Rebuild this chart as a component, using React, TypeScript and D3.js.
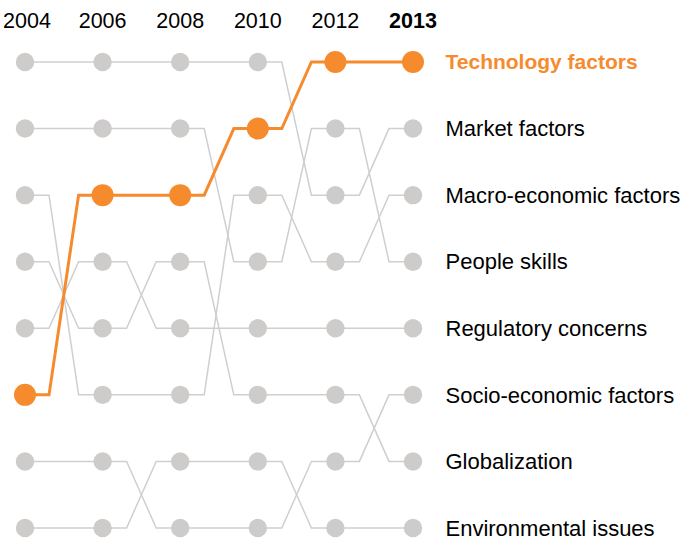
import React from "react";
import * as d3 from "d3";

const years = ["2004", "2006", "2008", "2010", "2012", "2013"];
const factors = [
  "Technology factors",
  "Market factors",
  "Macro-economic factors",
  "People skills",
  "Regulatory concerns",
  "Socio-economic factors",
  "Globalization",
  "Environmental issues",
];
const technologyRanks = [6, 3, 3, 2, 1, 1];
const marketRanks = [1, 1, 1, 1, 3, 2];
const macroRanks = [3, 6, 6, 3, 4, 3];
const peopleRanks = [2, 2, 2, 4, 2, 4];
const regulatoryRanks = [5, 4, 5, 5, 5, 5];
const socioRanks = [7, 7, 8, 8, 7, 6];
const globalizationRanks = [4, 5, 4, 6, 6, 7];
const environmentalRanks = [8, 8, 7, 7, 8, 8];
const rankSeries = [
  technologyRanks,
  marketRanks,
  macroRanks,
  peopleRanks,
  regulatoryRanks,
  socioRanks,
  globalizationRanks,
  environmentalRanks,
];
const highlight = "Technology factors";

const W = 683;
const H = 540;
const GRAY = "#cdcccb";
const LINE_GRAY = "#cfcfcf";
const ORANGE = "#f68b2e";
const FONT = "'Liberation Sans', Arial, Helvetica, sans-serif";

export default function App() {
  const x = d3.scalePoint<string>().domain(years).range([25, 413]);
  const y = d3.scaleLinear().domain([1, 8]).range([62, 528]);
  const off = 24;
  const line = d3.line<[number, number]>().x((d) => d[0]).y((d) => d[1]);

  const pathFor = (ranks: number[]) => {
    const pts: [number, number][] = [];
    ranks.forEach((r, i) => {
      const xi = x(years[i])!;
      if (i > 0) pts.push([xi - off, y(r)]);
      pts.push([xi, y(r)]);
      if (i < ranks.length - 1) pts.push([xi + off, y(r)]);
    });
    return line(pts)!;
  };

  const order = factors.map((f, i) => i).sort((a, b) =>
    factors[a] === highlight ? 1 : factors[b] === highlight ? -1 : 0
  );

  const lastYear = years[years.length - 1];

  return (
    <div style={{ position: "fixed", left: 0, top: 0 }}>
      <svg width={W} height={H} style={{ display: "block", background: "#fff" }}>
        {years.map((yr, i) => (
          <text
            key={yr}
            x={x(yr)! + (i === 0 ? 2 : 0)}
            y={28}
            textAnchor="middle"
            fontFamily={FONT}
            fontSize={21.5}
            fontWeight={i === years.length - 1 ? "bold" : "normal"}
            fill="#000"
          >
            {yr}
          </text>
        ))}
        {order.map((fi) => {
          const hl = factors[fi] === highlight;
          const ranks = rankSeries[fi];
          return (
            <g key={factors[fi]}>
              <path
                d={pathFor(ranks)}
                fill="none"
                stroke={hl ? ORANGE : LINE_GRAY}
                strokeWidth={hl ? 3 : 1.5}
                strokeLinejoin="miter"
              />
              {ranks.map((r, i) => (
                <circle
                  key={i}
                  cx={x(years[i])}
                  cy={y(r)}
                  r={hl ? 11 : 9.2}
                  fill={hl ? ORANGE : GRAY}
                />
              ))}
              <text
                x={x(lastYear)! + 32.5}
                y={y(ranks[ranks.length - 1])}
                dy="0.35em"
                fontFamily={FONT}
                fontSize={hl ? 21 : 22}
                fontWeight={hl ? "bold" : "normal"}
                fill={hl ? ORANGE : "#000"}
              >
                {factors[fi]}
              </text>
            </g>
          );
        })}
      </svg>
    </div>
  );
}
